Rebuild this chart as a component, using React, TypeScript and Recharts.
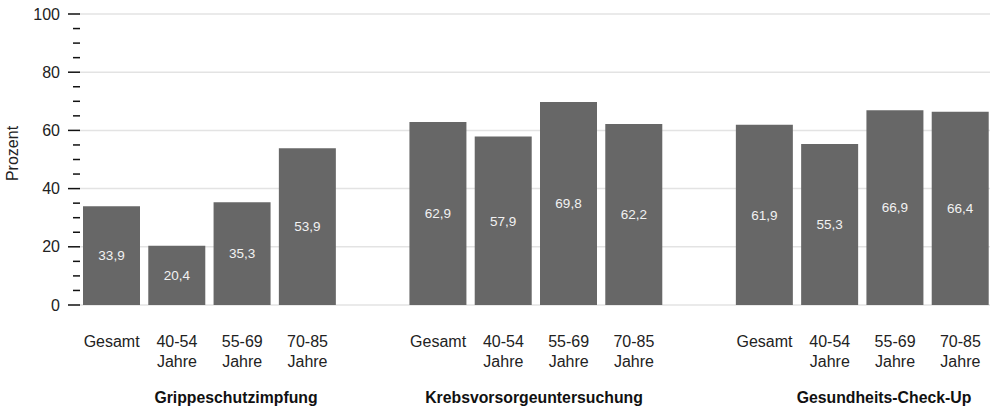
import React from 'react';
import { BarChart, Bar, XAxis, YAxis, CartesianGrid, LabelList } from 'recharts';

const groups = ['Grippeschutzimpfung', 'Krebsvorsorgeuntersuchung', 'Gesundheits-Check-Up'];
const ageLabels = ['Gesamt', '40-54 Jahre', '55-69 Jahre', '70-85 Jahre'];
const grippeValues = [33.9, 20.4, 35.3, 53.9];
const krebsValues = [62.9, 57.9, 69.8, 62.2];
const checkupValues = [61.9, 55.3, 66.9, 66.4];
const yMajorTicks = [0, 20, 40, 60, 80, 100];
const yAllTicks = [0, 5, 10, 15, 20, 25, 30, 35, 40, 45, 50, 55, 60, 65, 70, 75, 80, 85, 90, 95, 100];

const seriesByGroup = [grippeValues, krebsValues, checkupValues];

type Row = { key: string; label: string; value: number | null };
const data: Row[] = [];
seriesByGroup.forEach((vals, gi) => {
  vals.forEach((v, i) => data.push({ key: `g${gi}-${i}`, label: ageLabels[i], value: v }));
  if (gi < seriesByGroup.length - 1) data.push({ key: `gap${gi}`, label: '', value: null });
});

const FONT = '"Liberation Sans", Arial, Helvetica, sans-serif';
const groupLabelX = [236, 534, 884];

const XTick = (props: any) => {
  const { x, y, payload } = props;
  const row = data[payload.index];
  const label = row ? row.label : '';
  if (!label) return null;
  const parts = label.split(' ');
  return (
    <g>
      {parts.map((p: string, i: number) => (
        <text key={i} x={x} y={y + 42 + i * 20} textAnchor="middle" fontSize={16} fill="#222" fontFamily={FONT}>
          {p}
        </text>
      ))}
    </g>
  );
};

const YTick = (props: any) => {
  const { x, y, payload } = props;
  const major = payload.value % 20 === 0;
  return (
    <g>
      <line x1={major ? x - 11 : x - 6} x2={x + 1} y1={y} y2={y} stroke="#111" strokeWidth={1.5} />
      {major && (
        <text x={x - 19} y={y} dy={5.5} textAnchor="end" fontSize={16} fill="#222" fontFamily={FONT}>
          {payload.value}
        </text>
      )}
    </g>
  );
};

const YLabel = (props: any) => {
  const vb = props.viewBox || {};
  const cy = (vb.y ?? 14) + (vb.height ?? 291) / 2 - 6;
  const cx = 18;
  return (
    <text
      x={cx}
      y={cy}
      transform={`rotate(-90 ${cx} ${cy})`}
      textAnchor="middle"
      fontSize={16}
      fill="#222"
      fontFamily={FONT}
    >
      Prozent
    </text>
  );
};

export default function App() {
  return (
    <div style={{ position: 'absolute', left: 0, top: 0, width: 990, height: 410, overflow: 'hidden', background: '#fff', fontFamily: FONT }}>
      <BarChart
        width={993}
        height={410}
        data={data}
        margin={{ top: 14, right: 0, bottom: 45, left: 0 }}
        barCategoryGap={4}
      >
        <CartesianGrid vertical={false} horizontalValues={yMajorTicks} stroke="#e3e3e3" strokeWidth={1.5} />
        <XAxis
          dataKey="key"
          tick={<XTick />}
          tickLine={false}
          axisLine={false}
          tickSize={0}
          tickMargin={0}
          height={60}
          interval={0}
        />
        <YAxis
          domain={[0, 100]}
          ticks={yAllTicks}
          interval={0}
          tick={<YTick />}
          tickLine={false}
          axisLine={false}
          tickSize={0}
          tickMargin={0}
          width={79}
          label={<YLabel />}
        />
        <Bar dataKey="value" fill="#676767" isAnimationActive={false}>
          <LabelList
            dataKey="value"
            position="center"
            fill="#f2f2f2"
            fontSize={13.5}
            fontFamily={FONT}
            formatter={(v: any) => (v == null ? '' : String(v).replace('.', ','))}
          />
        </Bar>
      </BarChart>
      {groups.map((g, i) => (
        <div
          key={g}
          style={{
            position: 'absolute',
            left: groupLabelX[i],
            top: 388,
            transform: 'translateX(-50%)',
            whiteSpace: 'nowrap',
            fontWeight: 'bold',
            fontSize: 15.8,
            color: '#111',
            fontFamily: FONT,
            lineHeight: '20px',
          }}
        >
          {g}
        </div>
      ))}
    </div>
  );
}
